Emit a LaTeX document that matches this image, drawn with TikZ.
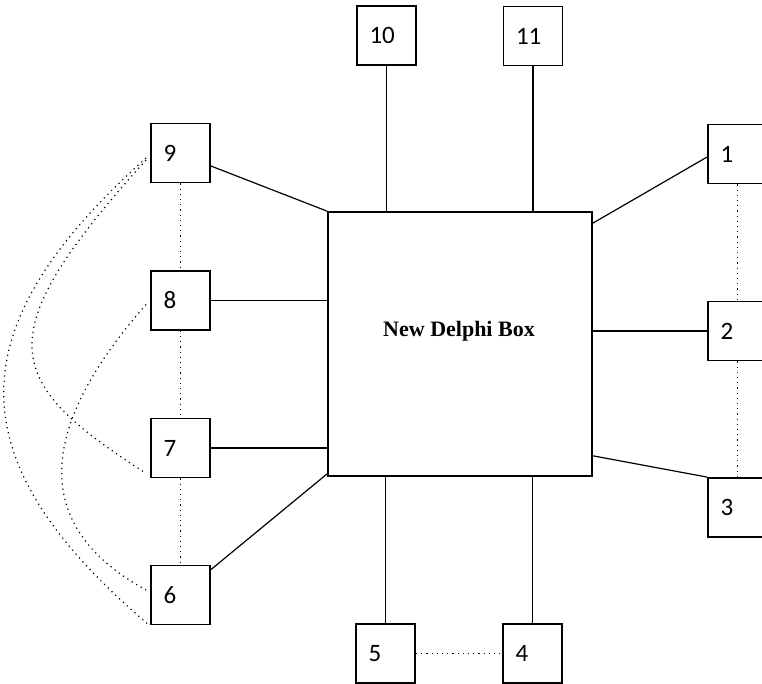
\documentclass[tikz,border=0pt]{standalone}
\usepackage{fontspec}
\setmainfont{Carlito}
\newfontfamily\titlefont{Liberation Serif}
\usepackage{tikz}

\begin{document}
\begin{tikzpicture}[x=0.5pt, y=-0.5pt,
  unit/.style={rectangle, draw, line width=0.9pt, minimum width=29.5pt, minimum height=29.5pt,
    text width=17pt, align=left, inner sep=0pt, font=\fontsize{12.5}{14}\selectfont},
  link/.style={line width=0.6pt},
  peer/.style={dotted, line width=0.6pt}]
\useasboundingbox (0,0) rectangle (762,684);
\node[rectangle, draw, line width=0.8pt, minimum width=132pt, minimum height=132pt] (box) at (460,344) {};
\node[font=\titlefont\bfseries\fontsize{11}{13}\selectfont] (title) at (459,331) {New Delphi Box};
\node[unit] (9) at (180.5,153) {9};
\node[unit] (8) at (180.5,300.5) {8};
\node[unit] (7) at (180.5,448) {7};
\node[unit] (6) at (180.5,595) {6};
\node[unit] (1) at (737.5,154) {1};
\node[unit] (2) at (737.5,331) {2};
\node[unit] (3) at (737.5,507.5) {3};
\node[unit] (10) at (386.5,35.5) {10};
\node[unit] (11) at (533,36) {11};
\node[unit] (5) at (385.5,653.5) {5};
\node[unit] (4) at (532.5,653.5) {4};
% solid links to the box
\draw[link] ([yshift=-6.5pt]9.east) -- (box.north west);
\draw[link] (8.east) -- (8.east -| box.west);
\draw[link] (7.east) -- (7.east -| box.west);
\draw[link] ([yshift=-2.5pt]6.north east) -- ([yshift=1.5pt]box.south west);
\draw[link] (10.south) -- (10.south |- box.north);
\draw[link] (11.south) -- (11.south |- box.north);
\draw[link] (5.north) -- (5.north |- box.south);
\draw[link] (4.north) -- (4.north |- box.south);
\draw[link] ([yshift=-6pt]box.north east) -- ([yshift=-1.5pt]1.west);
\draw[link] (2.west) -- (2.west -| box.east);
\draw[link] ([yshift=10.5pt]box.south east) -- (3.north west);
% dotted links between units
\draw[peer] (9.south) -- (8.north);
\draw[peer] (8.south) -- (7.north);
\draw[peer] (7.south) -- (6.north);
\draw[peer] (1.south) -- (2.north);
\draw[peer] (2.south) -- (3.north);
\draw[peer] (5.east) -- (4.east -| 4.west);
\draw[peer] ([xshift=-2pt,yshift=-2.5pt]9.west) .. controls +(-189,169) and +(-192,-164) .. ([xshift=-1.5pt,yshift=1pt]6.south west);
\draw[peer] ([xshift=-2pt,yshift=-3.5pt]9.west) .. controls +(-161,178) and +(-143,-92) .. ([xshift=-2pt,yshift=2.5pt]7.south west);
\draw[peer] ([xshift=-2pt,yshift=-2pt]8.west) .. controls +(-96,109) and +(-128,-70) .. ([xshift=-2pt,yshift=2.5pt]6.west);
\end{tikzpicture}
\end{document}
